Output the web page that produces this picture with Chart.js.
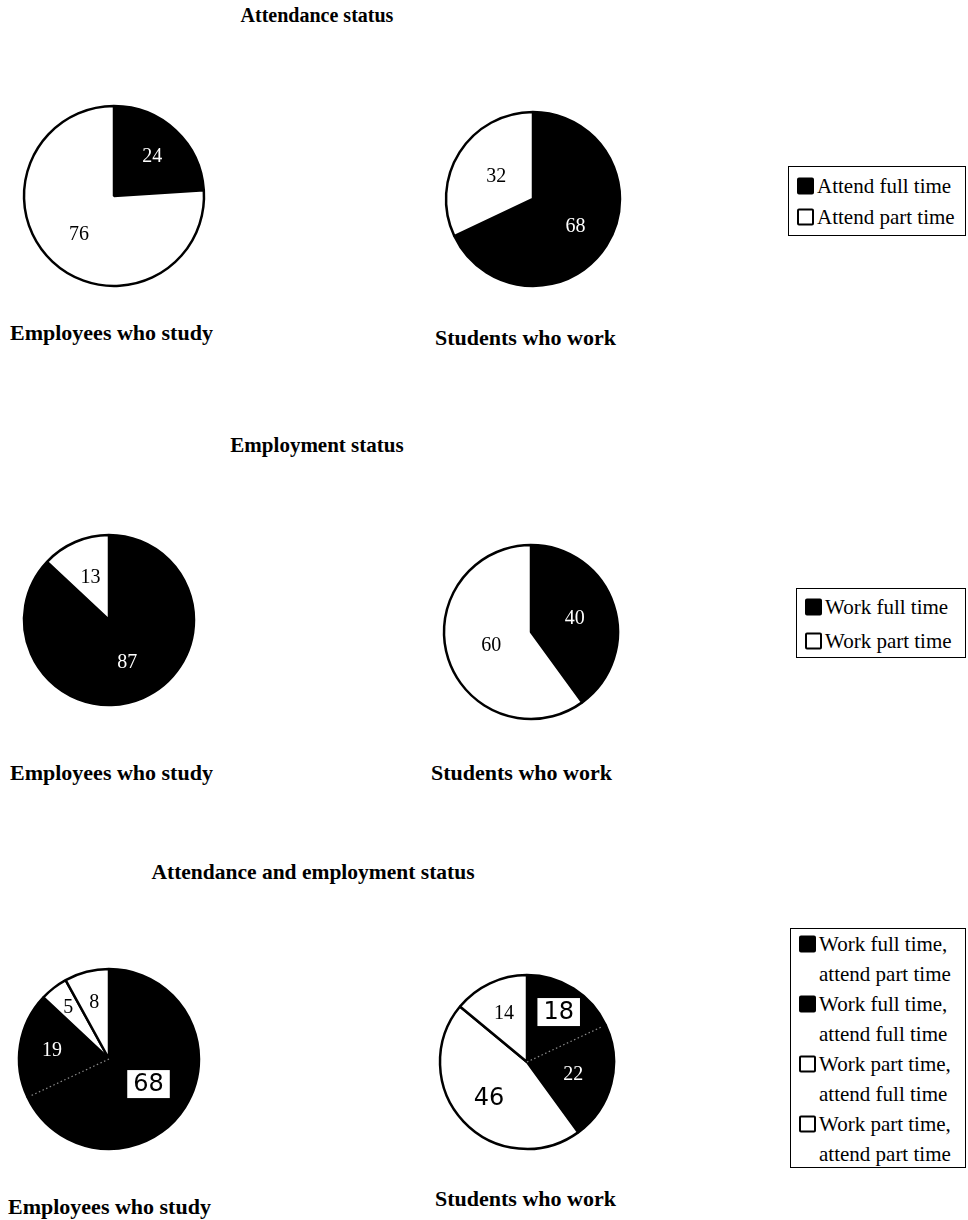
<!DOCTYPE html>
<html><head><meta charset="utf-8">
<script src="https://cdn.jsdelivr.net/npm/chart.js@4.4.1/dist/chart.umd.min.js"></script>
<style>
html,body{margin:0;padding:0;background:#fff;}
body{width:968px;height:1220px;position:relative;overflow:hidden;font-family:"Liberation Serif","Times New Roman",serif;color:#000;}
.t{position:absolute;font-weight:bold;white-space:nowrap;font-size:20px;transform:translate(-50%,-50%);line-height:1;}
.s{position:absolute;font-weight:bold;white-space:nowrap;font-size:22px;transform:translateY(-50%);line-height:1;}
canvas{position:absolute;}
.lg{position:absolute;border:1.5px solid #000;box-sizing:border-box;background:#fff;}
.li{position:absolute;font-size:21px;white-space:nowrap;transform:translateY(-50%);line-height:1;}
.mk{position:absolute;width:17px;height:17px;box-sizing:border-box;transform:translateY(-50%);border-radius:2px;}
</style></head><body>
<script>
// ---- data ----
const sectionTitles = ['Attendance status', 'Employment status', 'Attendance and employment status'];
const groupNames = ['Employees who study', 'Students who work'];
const attendanceLabels = ['Attend full time', 'Attend part time'];
const employeesAttendance = [24, 76];
const studentsAttendance = [68, 32];
const employmentLabels = ['Work full time', 'Work part time'];
const employeesEmployment = [87, 13];
const studentsEmployment = [40, 60];
const combinedLabels = [['Work full time,', 'attend part time'], ['Work full time,', 'attend full time'], ['Work part time,', 'attend full time'], ['Work part time,', 'attend part time']];
const employeesCombined = [68, 19, 5, 8];
const studentsCombined = [18, 22, 46, 14];

// ---- styles / layout ----
const BLACK = '#000', WHITE = '#fff';
const twoColors = [BLACK, WHITE];
const combinedColors = [BLACK, BLACK, WHITE, WHITE];

function addDiv(cls, text, left, top, extra) {
  const d = document.createElement('div');
  d.className = cls;
  if (text !== null) d.textContent = text;
  d.style.left = left + 'px';
  d.style.top = top + 'px';
  if (extra) Object.assign(d.style, extra);
  document.body.appendChild(d);
  return d;
}

// titles
[[317, 15, 20], [317, 445, 21], [313, 873, 21.5]].forEach((p, i) => addDiv('t', sectionTitles[i], p[0], p[1], {fontSize: p[2] + 'px'}));
// subtitles
[[10, 333, 0], [435, 338, 1], [10, 773, 0], [431, 773, 1], [8, 1207, 0], [435, 1199, 1]].forEach(p => addDiv('s', groupNames[p[2]], p[0], p[1]));

// legends
function legend(box, rows, labels, colors) {
  addDiv('lg', null, box[0], box[1], {width: box[2] + 'px', height: box[3] + 'px'});
  let k = 0;
  labels.forEach((lab, i) => {
    const arr = Array.isArray(lab) ? lab : [lab];
    const y = rows[k];
    addDiv('mk', null, box[0] + 9, y, {background: colors[i], border: '2.5px solid #000'});
    arr.forEach(txt => { addDiv('li', txt, box[0] + 29, rows[k]); k++; });
  });
}
legend([788, 166, 178, 70], [186, 217], attendanceLabels, twoColors);
legend([796, 588, 170, 70], [607, 641], employmentLabels, twoColors);
legend([790, 928, 176, 240], [944, 974, 1004, 1034, 1064, 1094, 1124, 1154], combinedLabels, combinedColors);

// slice label plugin
const sliceLabels = {
  id: 'sliceLabels',
  afterDatasetsDraw(chart, args, opts) {
    const ctx = chart.ctx;
    const meta = chart.getDatasetMeta(0);
    const ds = chart.data.datasets[0];
    if (opts.dotted !== undefined) {
      const a = meta.data[opts.dotted];
      const ang = a.endAngle;
      ctx.save();
      ctx.strokeStyle = '#8a8a8a';
      ctx.lineWidth = 1.2;
      ctx.setLineDash([1.5, 2.5]);
      ctx.beginPath();
      ctx.moveTo(a.x, a.y);
      ctx.lineTo(a.x + Math.cos(ang) * (a.outerRadius - 3), a.y + Math.sin(ang) * (a.outerRadius - 3));
      ctx.stroke();
      ctx.restore();
    }
    meta.data.forEach((a, i) => {
      const mid = (a.startAngle + a.endAngle) / 2;
      const f = opts.frac[i];
      const x = a.x + Math.cos(mid) * a.outerRadius * f;
      const y = a.y + Math.sin(mid) * a.outerRadius * f;
      const txt = String(ds.data[i]);
      const hand = opts.hand && opts.hand[i];
      ctx.save();
      ctx.textAlign = 'center';
      ctx.textBaseline = 'middle';
      if (hand) {
        ctx.font = '24px "DejaVu Sans"';
        if (hand === 'box') {
          const w = ctx.measureText(txt).width + 12;
          ctx.fillStyle = WHITE;
          ctx.fillRect(x - w / 2, y - 14, w, 28);
        }
        ctx.fillStyle = BLACK;
        ctx.fillText(txt, x, y + 1);
      } else {
        ctx.font = '20px "Liberation Serif"';
        ctx.fillStyle = ds.backgroundColor[i] === BLACK ? WHITE : BLACK;
        ctx.fillText(txt, x, y + 1);
      }
      ctx.restore();
    });
  }
};

function pie(cx, cy, r, labels, data, colors, lab) {
  const c = document.createElement('canvas');
  const S = 2 * r + 12;
  c.width = S; c.height = S;
  c.style.left = (cx - S / 2) + 'px';
  c.style.top = (cy - S / 2) + 'px';
  document.body.appendChild(c);
  new Chart(c, {
    type: 'pie',
    data: {labels: labels.map(l => Array.isArray(l) ? l.join(' ') : l), datasets: [{data: data, backgroundColor: colors, borderColor: BLACK, borderWidth: 2.5}]},
    options: {
      responsive: false, animation: false, events: [], radius: r,
      layout: {padding: 0},
      plugins: {legend: {display: false}, tooltip: {enabled: false}, sliceLabels: lab}
    },
    plugins: [sliceLabels]
  });
}

pie(114, 196, 90, attendanceLabels, employeesAttendance, twoColors, {frac: [0.62, 0.57]});
pie(533, 199, 87, attendanceLabels, studentsAttendance, twoColors, {frac: [0.58, 0.5]});
pie(109, 620, 85, employmentLabels, employeesEmployment, twoColors, {frac: [0.54, 0.55]});
pie(531, 632, 87, employmentLabels, studentsEmployment, twoColors, {frac: [0.53, 0.48]});
pie(109, 1059, 90, combinedLabels, employeesCombined, combinedColors, {frac: [0.52, 0.64, 0.74, 0.66], dotted: 0, hand: ['box', null, null, null]});
pie(527, 1062, 87, combinedLabels, studentsCombined, combinedColors, {frac: [0.68, 0.55, 0.6, 0.62], dotted: 0, hand: ['box', null, 'plain', null]});
</script>
</body></html>
